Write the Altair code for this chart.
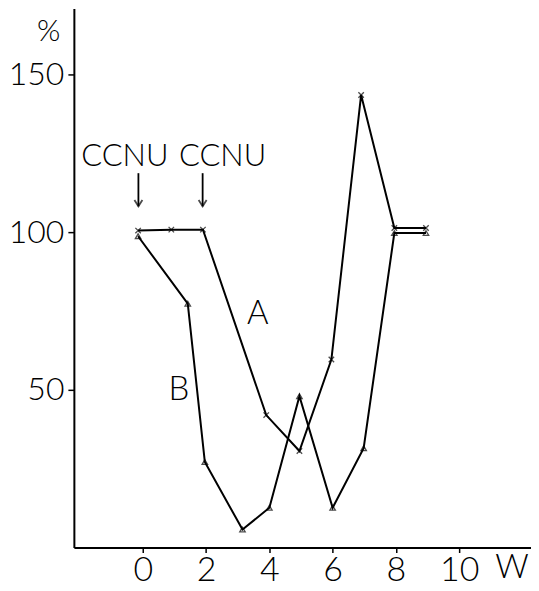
import altair as alt
import pandas as pd

# Series A (x markers)
a_weeks = [-0.15, 0.9, 1.9, 3.9, 4.95, 5.96, 6.9, 7.95, 8.95]
a_vals = [100.5, 100.8, 100.8, 42.0, 30.6, 59.6, 143.5, 101.3, 101.3]

# Series B (triangle markers)
b_weeks = [-0.15, 1.42, 1.96, 3.15, 4.0, 4.95, 6.0, 6.98, 7.95, 8.95]
b_vals = [98.7, 77.3, 27.1, 5.7, 12.6, 48.0, 12.6, 31.5, 99.7, 99.7]

x_ticks = [0, 2, 4, 6, 8, 10]
y_ticks = [50, 100, 150]

# annotations
ann_text = ["A", "B", "W"]
ann_x = [3.63, 1.14, 11.67]
ann_y = [74.0, 50.0, -6.5]

pct_text = ["%"]
pct_x = [-2.98]
pct_y = [163.6]

ccnu_text = ["CCNU", "CCNU"]
ccnu_x = [-0.57, 2.52]
ccnu_y = [123.7, 123.7]

arrow_x = [-0.14, 1.89]
arrow_top = [118.7, 118.7]
arrow_bottom = [108.2, 108.2]

FONT = "Lato, Open Sans, sans-serif"
FW = 300

dfa = pd.DataFrame({"w": a_weeks, "v": a_vals})
dfb = pd.DataFrame({"w": b_weeks, "v": b_vals})
dfann = pd.DataFrame({"t": ann_text, "x": ann_x, "y": ann_y})
dfpct = pd.DataFrame({"t": pct_text, "x": pct_x, "y": pct_y})
dfccnu = pd.DataFrame({"t": ccnu_text, "x": ccnu_x, "y": ccnu_y})
dfarr = pd.DataFrame({"x": arrow_x, "y1": arrow_top, "y2": arrow_bottom})

xs = alt.Scale(domain=[-2.18, 12.27], nice=False, zero=False)
ys = alt.Scale(domain=[0, 170.9], nice=False, zero=False)

xax = alt.Axis(values=x_ticks, title=None, grid=False, domainColor="black",
               domainWidth=2, tickColor="black", tickWidth=1.5, tickSize=5,
               labelFont=FONT, labelFontSize=34, labelFontWeight=FW, labelColor="black",
               labelPadding=1, labelFlush=False, labelOverlap=False)
yax = alt.Axis(values=y_ticks, title=None, grid=False, domainColor="black",
               domainWidth=2, tickColor="black", tickWidth=1.5, tickSize=6,
               labelFont=FONT, labelFontSize=32, labelFontWeight=FW, labelColor="black",
               labelPadding=4, labelFlush=False, labelOverlap=False)

base_x = alt.X("w:Q", scale=xs, axis=xax)
base_y = alt.Y("v:Q", scale=ys, axis=yax)

line_a = alt.Chart(dfa).mark_line(color="black", strokeWidth=2).encode(x=base_x, y=base_y)
pts_a = alt.Chart(dfa).mark_point(
    shape="M-1,-1L1,1M-1,1L1,-1", size=30, color="black", filled=False, strokeWidth=1.3
).encode(x=base_x, y=base_y)

line_b = alt.Chart(dfb).mark_line(color="black", strokeWidth=2).encode(x=base_x, y=base_y)
pts_b = alt.Chart(dfb).mark_point(
    shape="triangle-up", size=30, color="black", filled=False, strokeWidth=1.3
).encode(x=base_x, y=base_y)

def text_layer(df, size):
    return alt.Chart(df).mark_text(
        font=FONT, fontSize=size, fontWeight=FW, color="black", align="center",
        baseline="middle", clip=False
    ).encode(x=alt.X("x:Q", scale=xs), y=alt.Y("y:Q", scale=ys), text="t:N")

text = text_layer(dfann, 33)
pct = text_layer(dfpct, 30)
ccnu = text_layer(dfccnu, 31)

arrow_shaft = alt.Chart(dfarr).mark_rule(color="black", strokeWidth=1.8).encode(
    x=alt.X("x:Q", scale=xs), y=alt.Y("y1:Q", scale=ys), y2="y2:Q")
arrow_head = alt.Chart(dfarr).mark_point(
    shape="M-1,-1.6L0,0L1,-1.6", size=64, color="black", filled=False, strokeWidth=1.8
).encode(x=alt.X("x:Q", scale=xs), y=alt.Y("y2:Q", scale=ys))

chart = alt.layer(line_a, line_b, pts_a, pts_b, arrow_shaft, arrow_head, text, pct, ccnu).properties(
    width=458, height=540,
    autosize=alt.AutoSizeParams(type="none"),
    padding={"left": 66, "top": 0, "right": 0, "bottom": 45},
    background="white",
).configure_view(stroke=None)

chart.save("out.html", embed_options={"renderer": "svg", "actions": False})
